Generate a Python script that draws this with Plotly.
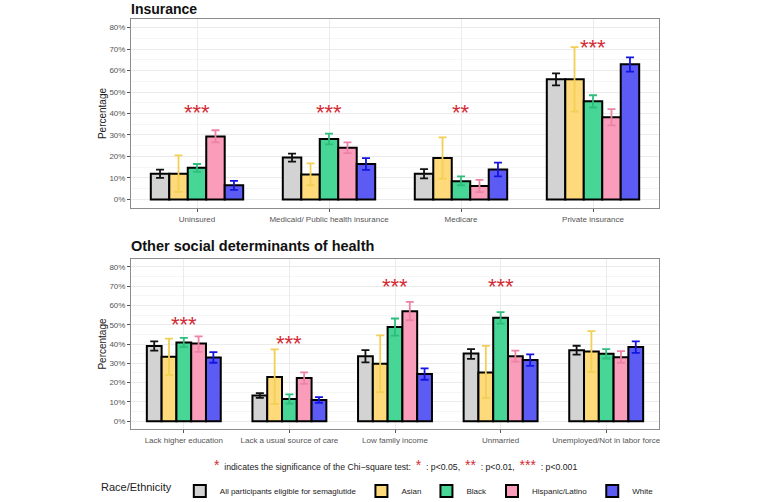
import plotly.graph_objects as go

# ---------------- data ----------------
groups = ["All participants eligible for semaglutide", "Asian", "Black", "Hispanic/Latino", "White"]

ins_categories = ["Uninsured", "Medicaid/ Public health insurance", "Medicare", "Private insurance"]
ins_values = [
    [12.0, 19.5, 12.0, 55.9],
    [12.0, 11.6, 19.3, 55.9],
    [14.7, 28.1, 8.5, 45.7],
    [29.3, 24.1, 6.2, 38.3],
    [6.6, 16.5, 13.9, 62.9],
]
ins_lower = [
    [10.0, 17.6, 9.8, 53.1],
    [3.5, 6.6, 9.7, 40.9],
    [12.8, 25.6, 6.6, 42.8],
    [26.6, 21.6, 3.4, 34.5],
    [4.4, 13.8, 10.7, 59.5],
]
ins_upper = [
    [13.9, 21.3, 14.1, 58.7],
    [20.5, 16.8, 28.9, 70.9],
    [16.5, 30.6, 10.7, 48.5],
    [32.2, 26.6, 9.1, 42.0],
    [8.6, 19.2, 17.1, 66.1],
]
ins_signif = ["***", "***", "**", "***"]
ins_signif_y = [42.2, 42.2, 42.2, 72.4]

sdoh_categories = ["Lack higher education", "Lack a usual source of care", "Low family income",
                   "Unmarried", "Unemployed/Not in labor force"]
sdoh_values = [
    [39.0, 13.4, 33.7, 35.1, 36.8],
    [33.4, 22.9, 29.8, 25.3, 36.1],
    [40.8, 11.5, 48.8, 53.6, 34.9],
    [40.2, 22.4, 57.0, 33.7, 33.2],
    [33.0, 11.0, 24.5, 31.7, 38.4],
]
sdoh_lower = [
    [36.6, 12.1, 30.5, 32.3, 34.5],
    [24.0, 9.0, 15.1, 12.0, 25.6],
    [38.5, 9.1, 44.3, 50.6, 32.5],
    [35.9, 19.4, 52.3, 30.9, 30.3],
    [30.3, 9.6, 21.5, 28.7, 35.4],
]
sdoh_upper = [
    [41.4, 14.6, 36.8, 37.4, 39.1],
    [42.8, 37.2, 44.5, 39.0, 46.7],
    [43.2, 13.9, 53.2, 56.5, 37.3],
    [44.0, 25.3, 61.8, 36.6, 36.3],
    [35.8, 12.5, 27.4, 34.6, 41.4],
]
sdoh_signif = ["***", "***", "***", "***", ""]
sdoh_signif_y = [52.2, 42.3, 71.9, 71.9, 0]

y_ticks = [0, 10, 20, 30, 40, 50, 60, 70, 80]
y_tick_labels = ["0%", "10%", "20%", "30%", "40%", "50%", "60%", "70%", "80%"]

# ---------------- styles ----------------
fill_colors = ["#D3D3D3", "#FFDA7B", "#47D695", "#F99DBB", "#5C5CF5"]
err_colors = ["#111111", "#F2CF55", "#2DBE7C", "#EC82A6", "#1414E0"]
star_color = "#D42A35"
font_family = "Liberation Sans, Arial, sans-serif"

fig = go.Figure()

panels = [
    (ins_categories, ins_values, ins_lower, ins_upper, "x", "y", True),
    (sdoh_categories, sdoh_values, sdoh_lower, sdoh_upper, "x2", "y2", False),
]
for cats, vals, lows, ups, xa, ya, show in panels:
    for gi, g in enumerate(groups):
        v = vals[gi]
        plus = [u - a for u, a in zip(ups[gi], v)]
        minus = [a - l for a, l in zip(v, lows[gi])]
        fig.add_trace(go.Bar(
            x=cats, y=v, name=g, legendgroup=g, showlegend=show,
            xaxis=xa, yaxis=ya,
            marker=dict(color=fill_colors[gi], line=dict(color="black", width=2)),
            error_y=dict(type="data", symmetric=False, array=plus, arrayminus=minus,
                         color=err_colors[gi], thickness=1.8, width=4),
        ))

# significance stars
for cats, sig, sy, xa, ya in [(ins_categories, ins_signif, ins_signif_y, "x", "y"),
                              (sdoh_categories, sdoh_signif, sdoh_signif_y, "x2", "y2")]:
    for c, s, yv in zip(cats, sig, sy):
        if s:
            fig.add_annotation(x=c, y=yv, xref=xa, yref=ya, text=s, showarrow=False,
                               font=dict(size=22, color=star_color, family=font_family),
                               yanchor="middle", yshift=-4)

axis_common = dict(
    showline=True, mirror=True, linecolor="#8C8C8C", linewidth=1,
    ticks="outside", ticklen=3, tickcolor="#555555",
    tickfont=dict(size=8, color="#555555", family=font_family),
    showgrid=True, gridcolor="#EBEBEB", gridwidth=1, zeroline=False,
)
yaxis_common = dict(
    range=[-4, 84], tickmode="array", tickvals=y_ticks, ticktext=y_tick_labels,
    title=dict(text="Percentage", font=dict(size=10, color="#222222"), standoff=0),
    minor=dict(dtick=5, tick0=5, showgrid=True, gridcolor="#F5F5F5", ticks=""),
)

fig.update_layout(
    width=758, height=502,
    margin=dict(l=131, r=99, t=19, b=73),
    paper_bgcolor="white", plot_bgcolor="white",
    barmode="group", bargap=0.3, bargroupgap=0,
    font=dict(family=font_family, color="#222222"),
    xaxis=dict(domain=[0, 1], anchor="y", **axis_common),
    yaxis=dict(domain=[0.539, 1], anchor="x", **yaxis_common, **axis_common),
    xaxis2=dict(domain=[0, 1], anchor="y2", **axis_common),
    yaxis2=dict(domain=[0, 0.4146], anchor="x2", **yaxis_common, **axis_common),
    legend=dict(orientation="h", x=0.5, xanchor="center", xref="container",
                y=(502 - 491) / 502, yanchor="middle", yref="container",
                font=dict(size=8, color="#222222"),
                title=dict(text="Race/Ethnicity", font=dict(size=11, color="#222222"), side="left"),
                itemwidth=30, tracegroupgap=0, traceorder="normal"),
)

# panel titles
fig.add_annotation(xref="paper", yref="paper", x=0, y=429 / 410, xanchor="left", yanchor="top",
                   text="<b>Insurance</b>", showarrow=False, xshift=-2, yshift=1,
                   font=dict(size=14, color="#111111", family=font_family))
fig.add_annotation(xref="paper", yref="paper", x=0, y=(429 - 246) / 410, xanchor="left", yanchor="middle",
                   text="<b>Other social determinants of health</b>", showarrow=False, xshift=-2,
                   font=dict(size=14.5, color="#111111", family=font_family))

# significance note
star = lambda s: f"<span style='color:{star_color};font-size:14px'>{s}</span>"
note = (f"{star('*')}  indicates the significance of the Chi\u2212square test:  {star('*')}  : p<0.05,  "
        f"{star('**')}  : p<0.01,  {star('***')}  : p<0.001")
fig.add_annotation(xref="paper", yref="paper", x=0.5, y=(429 - 465) / 410, xanchor="center", yanchor="middle",
                   text=note, showarrow=False, font=dict(size=8.7, color="#222222", family=font_family))

fig.write_html("out.html", config={"displayModeBar": False},
               post_script="document.body.style.margin='0px';")
